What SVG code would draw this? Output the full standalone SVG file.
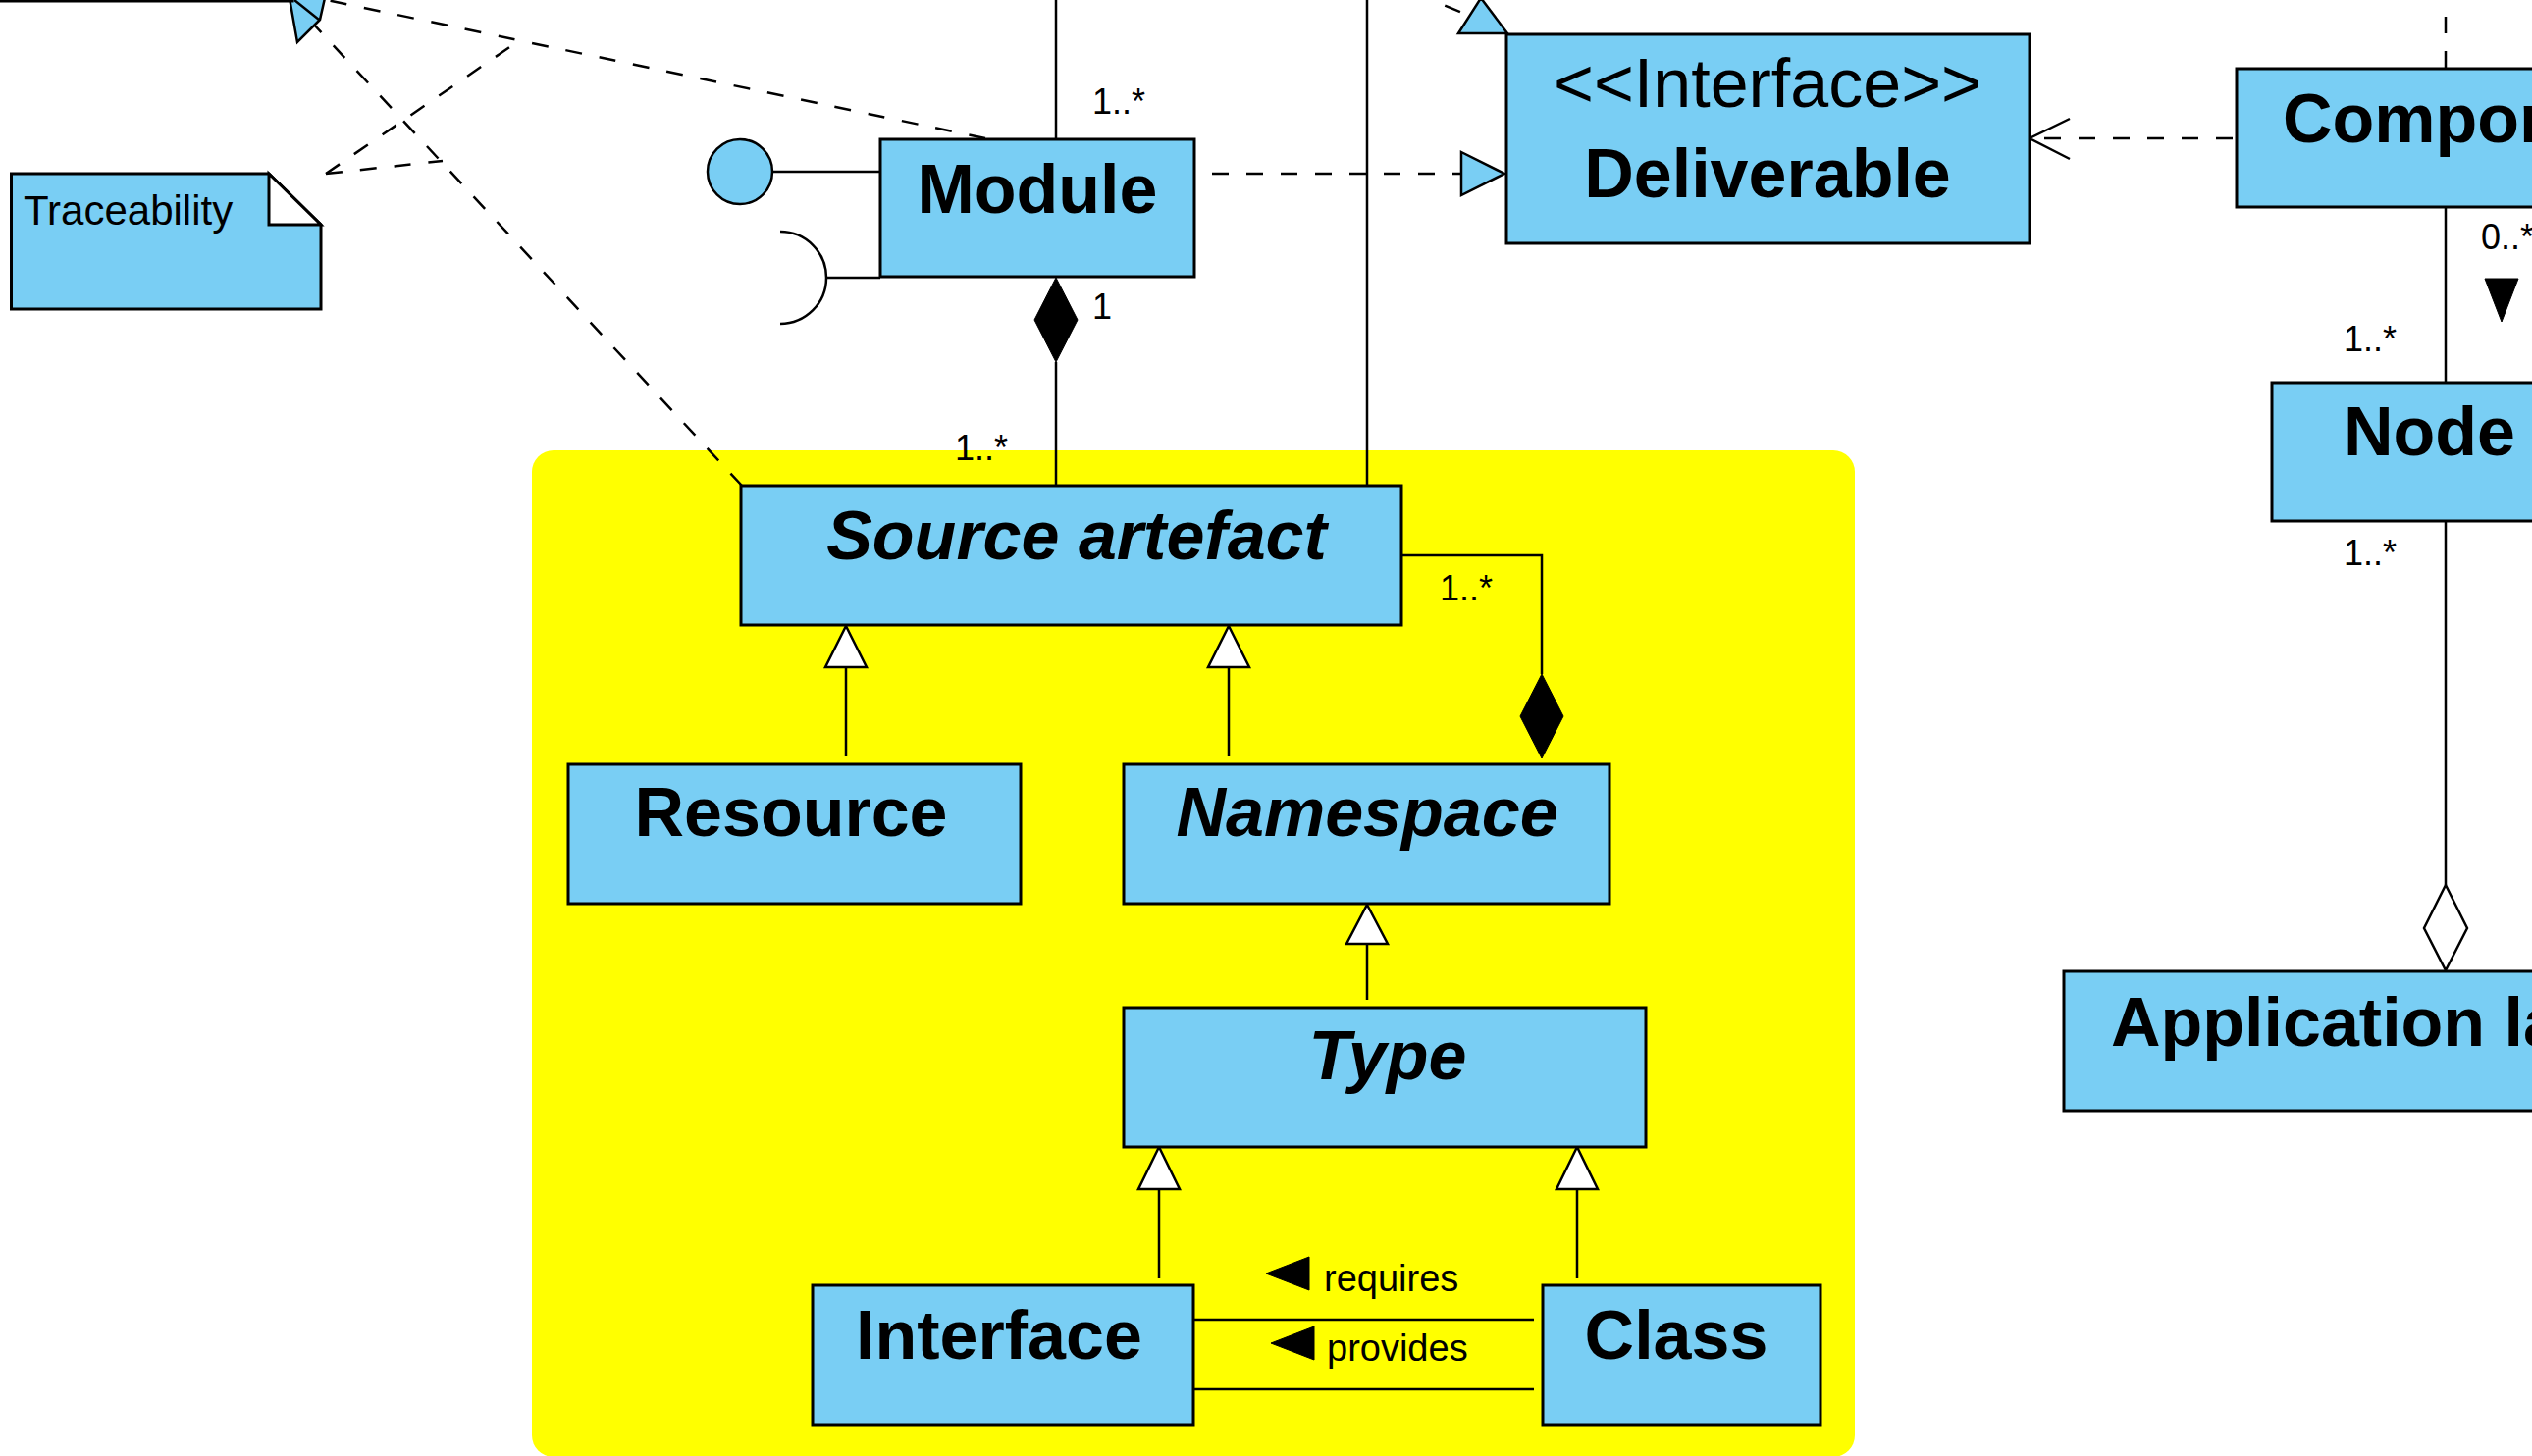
<svg xmlns="http://www.w3.org/2000/svg" width="2580" height="1484" viewBox="0 0 2580 1484">
<style>
.box{fill:#79CEF4;stroke:#000;stroke-width:3}
.t{font-family:'Liberation Sans',Arial,Helvetica,sans-serif;font-size:70px;font-weight:bold;text-anchor:middle;fill:#000}
.s{text-anchor:start}
.i{font-style:italic}
.r{font-weight:normal}
.lbl{font-family:'Liberation Sans',Arial,Helvetica,sans-serif;font-size:36px;fill:#000}
.ln{stroke:#000;stroke-width:2.5;fill:none}
.d{stroke-dasharray:17 18}
.hd{fill:#fff;stroke:#000;stroke-width:2.5}
.bh{fill:#79CEF4;stroke:#000;stroke-width:2.5}
.fh{fill:#000;stroke:#000;stroke-width:1}
</style>
<rect x="0" y="0" width="2580" height="1484" fill="#fff"/>
<rect id="package" x="542" y="459" width="1348" height="1026" rx="22" ry="22" fill="#FFFF00"/>
<g id="connectors">
  <!-- realizations to top-left -->
  <line class="ln d" x1="1004" y1="141" x2="333" y2="0"/>
  <line class="ln d" x1="756" y1="495" x2="318" y2="23"/>
  <polygon class="bh" points="295,-2 303,43 326,20 331,-2"/>
  <line class="ln" x1="300" y1="0" x2="325" y2="20"/>
  <!-- note anchors -->
  <line class="ln d" x1="332" y1="177" x2="528" y2="42"/>
  <line class="ln d" x1="332" y1="177" x2="451" y2="164"/>
  <!-- Module to Deliverable -->
  <line class="ln d" x1="1235" y1="177" x2="1489" y2="177"/>
  <polygon class="bh" points="1489,155 1533,177 1489,199"/>
  <!-- top realization near Deliverable -->
  <line class="ln d" x1="1440" y1="-8" x2="1497" y2="16"/>
  <polygon class="bh" points="1486,34 1536,34 1509,-2"/>
  <!-- Module top -->
  <line class="ln" x1="1076" y1="0" x2="1076" y2="141"/>
  <text class="lbl" x="1113" y="116">1..*</text>
  <!-- Module composition -->
  <line class="ln" x1="1076" y1="369" x2="1076" y2="494"/>
  <polygon class="fh" points="1076,283 1098,326 1076,369 1054,326"/>
  <text class="lbl" x="1113" y="325">1</text>
  <text class="lbl" x="973" y="469">1..*</text>
  <!-- long vertical -->
  <line class="ln" x1="1393" y1="0" x2="1393" y2="494"/>
  <!-- Component to Deliverable -->
  <line class="ln d" x1="2083" y1="141" x2="2278" y2="141"/>
  <polyline class="ln" points="2109,121 2068,141 2109,162"/>
  <!-- above Component -->
  <line class="ln d" x1="2492" y1="69" x2="2492" y2="-2"/>
  <!-- Component - Node -->
  <line class="ln" x1="2492" y1="212" x2="2492" y2="389"/>
  <text class="lbl" x="2528" y="254">0..*</text>
  <text class="lbl" x="2388" y="358">1..*</text>
  <polygon class="fh" points="2532,284 2566,284 2549,328"/>
  <!-- Node - Application layer -->
  <line class="ln" x1="2492" y1="531" x2="2492" y2="902"/>
  <polygon class="hd" points="2492,902 2514,946 2492,989 2470,946"/>
  <text class="lbl" x="2388" y="576">1..*</text>
  <!-- generalizations -->
  <line class="ln" x1="862" y1="680" x2="862" y2="771"/>
  <polygon class="hd" points="862,638 883,680 841,680"/>
  <line class="ln" x1="1252" y1="680" x2="1252" y2="771"/>
  <polygon class="hd" points="1252,638 1273,680 1231,680"/>
  <line class="ln" x1="1393" y1="962" x2="1393" y2="1019"/>
  <polygon class="hd" points="1393,922 1414,962 1372,962"/>
  <line class="ln" x1="1181" y1="1212" x2="1181" y2="1303"/>
  <polygon class="hd" points="1181,1169 1202,1212 1160,1212"/>
  <line class="ln" x1="1607" y1="1212" x2="1607" y2="1303"/>
  <polygon class="hd" points="1607,1169 1628,1212 1586,1212"/>
  <!-- Namespace composition -->
  <polyline class="ln" points="1429,566 1571,566 1571,687"/>
  <polygon class="fh" points="1571,687 1593,730 1571,773 1549,730"/>
  <text class="lbl" x="1467" y="612">1..*</text>
  <!-- Interface - Class -->
  <line class="ln" x1="1216" y1="1345" x2="1563" y2="1345"/>
  <line class="ln" x1="1216" y1="1416" x2="1563" y2="1416"/>
  <polygon class="fh" points="1290,1298 1334,1281 1334,1315"/>
  <text class="lbl" x="1349" y="1316" style="font-size:38px">requires</text>
  <polygon class="fh" points="1295,1369 1339,1352 1339,1386"/>
  <text class="lbl" x="1352" y="1387" style="font-size:38px">provides</text>
  <!-- lollipop and socket -->
  <line class="ln" x1="788" y1="175" x2="897" y2="175"/>
  <path class="ln" d="M795,236 A47,47 0 0 1 795,330"/>
  <line class="ln" x1="842" y1="283" x2="897" y2="283"/>
</g>
<g id="node-topleft"><rect class="box" x="-10" y="-140" width="308" height="141"/></g>
<g id="node-provided-interface"><circle class="bh" cx="754" cy="175" r="33"/></g>
<g id="node-traceability">
  <polygon class="box" points="11.5,177 274,177 327,229 327,315 11.5,315"/>
  <polygon points="274,177 327,229 274,229" fill="#fff" stroke="#000" stroke-width="3"/>
  <text class="lbl" x="24" y="229" style="font-size:42px">Traceability</text>
</g>
<g id="node-module">
  <rect class="box" x="897" y="142" width="320" height="140"/>
  <text class="t" x="1057" y="217">Module</text>
</g>
<g id="node-deliverable">
  <rect class="box" x="1535" y="35" width="533" height="213"/>
  <text class="t r" x="1801" y="109">&lt;&lt;Interface&gt;&gt;</text>
  <text class="t" x="1801" y="201">Deliverable</text>
</g>
<g id="node-component">
  <rect class="box" x="2279" y="70" width="482" height="141"/>
  <text class="t s" x="2326" y="145">Component</text>
</g>
<g id="node-node">
  <rect class="box" x="2315" y="390" width="320" height="141"/>
  <text class="t s" x="2388" y="464">Node</text>
</g>
<g id="node-application-layer">
  <rect class="box" x="2103" y="990" width="660" height="142"/>
  <text class="t s" x="2151" y="1066">Application layer</text>
</g>
<g id="node-source-artefact">
  <rect class="box" x="755" y="495" width="673" height="142"/>
  <text class="t i" x="1097" y="570">Source artefact</text>
</g>
<g id="node-resource">
  <rect class="box" x="579" y="779" width="461" height="142"/>
  <text class="t" x="806" y="852">Resource</text>
</g>
<g id="node-namespace">
  <rect class="box" x="1145" y="779" width="495" height="142"/>
  <text class="t i" x="1393" y="852">Namespace</text>
</g>
<g id="node-type">
  <rect class="box" x="1145" y="1027" width="532" height="142"/>
  <text class="t i" x="1414" y="1100">Type</text>
</g>
<g id="node-interface">
  <rect class="box" x="828" y="1310" width="388" height="142"/>
  <text class="t" x="1018" y="1385">Interface</text>
</g>
<g id="node-class">
  <rect class="box" x="1572" y="1310" width="283" height="142"/>
  <text class="t" x="1708" y="1385">Class</text>
</g>
</svg>
